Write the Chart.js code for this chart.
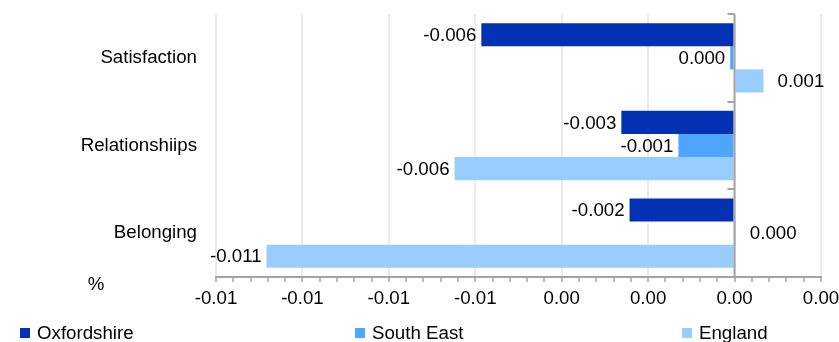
<!DOCTYPE html>
<html>
<head>
<meta charset="utf-8">
<script src="https://cdn.jsdelivr.net/npm/chart.js@4/dist/chart.umd.min.js"></script>
<style>
html,body{margin:0;padding:0;background:#fff;}
#wrap{width:839px;height:342px;position:relative;overflow:hidden;}
</style>
</head>
<body>
<div id="wrap"><canvas id="c" width="839" height="342"></canvas></div>
<script>
// ---- data ----
const categories = ['Satisfaction', 'Relationshiips', 'Belonging'];
const seriesNames = ['Oxfordshire', 'South East', 'England'];
const oxfordshire = [-0.00586, -0.00262, -0.00243];
const southEast = [-0.0001, -0.0013, 0.00003];
const england = [0.00067, -0.00648, -0.01083];
const xTickValues = [-0.012, -0.010, -0.008, -0.006, -0.004, -0.002, 0, 0.002];
const xTickLabels = ['-0.01', '-0.01', '-0.01', '-0.01', '0.00', '0.00', '0.00', '0.00'];
const minorPerMajor = 5;
const axisTitle = '%';

// ---- styles ----
const colors = ['#0331B4', '#4DA6FF', '#99CCFF'];
const FONT_FAMILY = "'Liberation Sans', Arial, sans-serif";
const FONT_SIZE = 18.7;
const AXIS_COLOR = '#a3a3a3';
const GRID_COLOR = '#ebebeb';

Chart.defaults.font.family = FONT_FAMILY;
Chart.defaults.font.size = FONT_SIZE;
Chart.defaults.color = '#000';

function fmt(v) {
  if (Math.abs(v) < 0.0005) return '0.000';
  return v.toFixed(3);
}

// build minor+major tick list from the major tick values
function buildTicks() {
  const out = [];
  for (let m = 0; m < xTickValues.length; m++) {
    out.push({ value: xTickValues[m], major: true, mi: m });
    if (m < xTickValues.length - 1) {
      const a = xTickValues[m], b = xTickValues[m + 1];
      for (let k = 1; k < minorPerMajor; k++) {
        out.push({ value: a + (b - a) * k / minorPerMajor, major: false });
      }
    }
  }
  return out;
}
const allTicks = buildTicks();

const zeroAxisPlugin = {
  id: 'zeroAxis',
  afterDatasetsDraw(chart) {
    const { ctx, chartArea } = chart;
    const xs = chart.scales.x;
    const x0 = Math.round(xs.getPixelForValue(0)) - 0.5;
    ctx.save();
    ctx.strokeStyle = AXIS_COLOR;
    ctx.lineWidth = 2;
    ctx.beginPath();
    ctx.moveTo(x0, chartArea.top);
    ctx.lineTo(x0, chartArea.bottom);
    const bw = (chartArea.bottom - chartArea.top) / categories.length;
    for (let k = 0; k <= categories.length; k++) {
      const y = Math.round(chartArea.top + k * bw);
      ctx.moveTo(x0 - 7, y);
      ctx.lineTo(x0, y);
    }
    ctx.stroke();
    ctx.restore();
  }
};

const valueLabelPlugin = {
  id: 'valueLabels',
  afterDraw(chart) {
    const ctx = chart.ctx;
    ctx.save();
    ctx.font = FONT_SIZE + 'px ' + FONT_FAMILY;
    ctx.fillStyle = '#000';
    ctx.textBaseline = 'middle';
    chart.data.datasets.forEach((ds, di) => {
      const meta = chart.getDatasetMeta(di);
      meta.data.forEach((bar, i) => {
        const v = ds.data[i];
        const t = fmt(v);
        if (v < 0) {
          ctx.textAlign = 'right';
          ctx.fillText(t, bar.x - 5, bar.y + 1);
        } else {
          ctx.textAlign = 'left';
          ctx.fillText(t, bar.x + 14, bar.y + 1);
        }
      });
    });
    // axis title "%"
    ctx.textAlign = 'center';
    ctx.fillText(axisTitle, 96, 285);
    // legend
    const legendX = [20, 355, 682];
    const legendY = 333;
    seriesNames.forEach((name, i) => {
      ctx.fillStyle = colors[i];
      ctx.fillRect(legendX[i], legendY - 5, 10, 10);
      ctx.fillStyle = '#000';
      ctx.textAlign = 'left';
      ctx.fillText(name, legendX[i] + 17, legendY + 1);
    });
    ctx.restore();
  }
};

new Chart(document.getElementById('c'), {
  type: 'bar',
  data: {
    labels: categories,
    datasets: [
      { label: seriesNames[0], data: oxfordshire, backgroundColor: colors[0] },
      { label: seriesNames[1], data: southEast, backgroundColor: colors[1] },
      { label: seriesNames[2], data: england, backgroundColor: colors[2] }
    ]
  },
  options: {
    indexAxis: 'y',
    responsive: false,
    animation: false,
    layout: { padding: { top: 14, right: 18, bottom: 35, left: 0 } },
    datasets: { bar: { barPercentage: 1, categoryPercentage: 0.79, borderWidth: 0 } },
    plugins: { legend: { display: false }, tooltip: { enabled: false } },
    scales: {
      x: {
        min: xTickValues[0],
        max: xTickValues[xTickValues.length - 1],
        afterBuildTicks: (s) => { s.ticks = allTicks.map(t => ({ value: t.value })); },
        afterFit: (s) => { s.height = 30; s.paddingLeft = 0; s.paddingRight = 0; },
        ticks: {
          autoSkip: false,
          maxRotation: 0,
          padding: 6,
          callback: (v, i) => allTicks[i].major ? xTickLabels[allTicks[i].mi] : ''
        },
        grid: {
          color: (c) => (allTicks[c.index] && allTicks[c.index].major) ? GRID_COLOR : 'rgba(0,0,0,0)',
          lineWidth: 2,
          drawTicks: true,
          tickLength: 5,
          tickColor: AXIS_COLOR,
          tickWidth: 1.5
        },
        border: { display: true, color: AXIS_COLOR, width: 2 }
      },
      y: {
        grid: { display: false, drawTicks: false },
        border: { display: false },
        ticks: { padding: 19 },
        afterFit: (s) => { s.width = 216; s.paddingTop = 0; s.paddingBottom = 0; }
      }
    }
  },
  plugins: [zeroAxisPlugin, valueLabelPlugin]
});
</script>
</body>
</html>
